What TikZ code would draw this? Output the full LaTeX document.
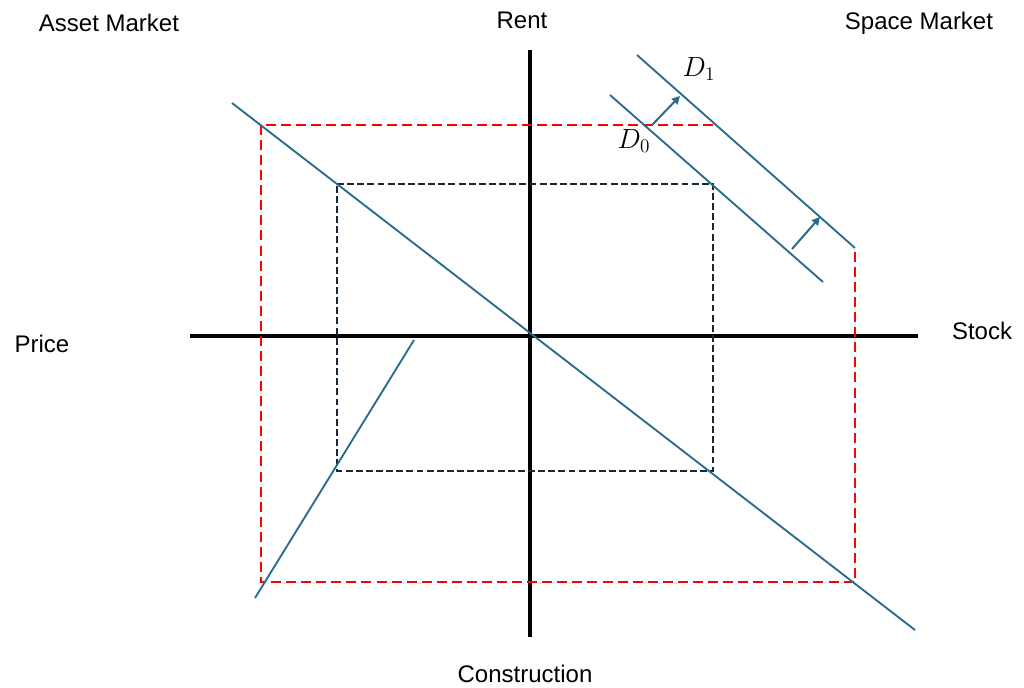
\documentclass[tikz,border=0pt]{standalone}
\usepackage{fontspec}
\setmainfont{Liberation Sans}
\usetikzlibrary{arrows.meta}
\definecolor{curve}{RGB}{42,108,140}
\definecolor{navy}{RGB}{25,40,55}
\begin{document}
\begin{tikzpicture}[x=0.75pt,y=-0.75pt,
  axis/.style={line width=2.4pt,black},
  curveline/.style={line width=1.4pt,curve},
  reddash/.style={line width=1.5pt,red,dash pattern=on 7.5pt off 3.8pt},
  navydash/.style={line width=1.3pt,navy,dash pattern=on 5.2pt off 2.4pt},
  shiftarrow/.style={line width=1.5pt,curve,-{Triangle[length=6pt,width=6pt]}},
  lbl/.style={font=\fontsize{18}{22}\selectfont,inner sep=0pt},
  dlbl/.style={font=\fontsize{20}{24}\selectfont,inner sep=0pt}]
\useasboundingbox (0,0) rectangle (1024,687);
% labels
\node[lbl] (asset) at (109,23) {Asset Market};
\node[lbl] (rent) at (522,20) {Rent};
\node[lbl] (space) at (919,23) {Space Market};
\node[lbl] (price) at (42,344) {Price};
\node[lbl] (stock) at (982,331) {Stock};
\node[lbl] (constr) at (525,674) {Construction};
% axes
\coordinate (vt) at (530,50);
\coordinate (vb) at (530,637);
\coordinate (hl) at (190,336);
\coordinate (hr) at (918,336);
\draw[axis] (vt) -- (vb);
\draw[axis] (hl) -- (hr);
% red dashed rectangle
\coordinate (r1) at (261,125);
\coordinate (r2) at (713,125);
\coordinate (r3) at (855,248);
\coordinate (r4) at (855,582);
\coordinate (r5) at (261,582);
\draw[reddash] (r2) -- (r1) -- (r5) -- (r4) -- (r3);
% navy dashed rectangle
\coordinate (b1) at (337,184);
\coordinate (b2) at (713,184);
\coordinate (b3) at (713,471);
\coordinate (b4) at (337,471);
\draw[navydash] (b1) -- (b2) -- (b3) -- (b4) -- cycle;
% main diagonal
\coordinate (m1) at (232,103);
\coordinate (m2) at (915,630);
\draw[curveline] (m1) -- (m2);
% construction line
\coordinate (c1) at (255,598);
\coordinate (c2) at (414,340);
\draw[curveline] (c1) -- (c2);
% demand lines
\coordinate (d0a) at (610,95);
\coordinate (d0b) at (823,282);
\coordinate (d1a) at (637,55);
\coordinate (d1b) at (855,248);
\draw[curveline] (d0a) -- (d0b);
\draw[curveline] (d1a) -- (d1b);
\node[dlbl] (D1) at (699,69) {$D_1$};
\node[dlbl] (D0) at (634,141) {$D_0$};
% shift arrows
\coordinate (a1s) at (652,125);
\coordinate (a1e) at (680,96);
\coordinate (a2s) at (792,249);
\coordinate (a2e) at (820,217);
\draw[shiftarrow] (a1s) -- (a1e);
\draw[shiftarrow] (a2s) -- (a2e);
\end{tikzpicture}
\end{document}
